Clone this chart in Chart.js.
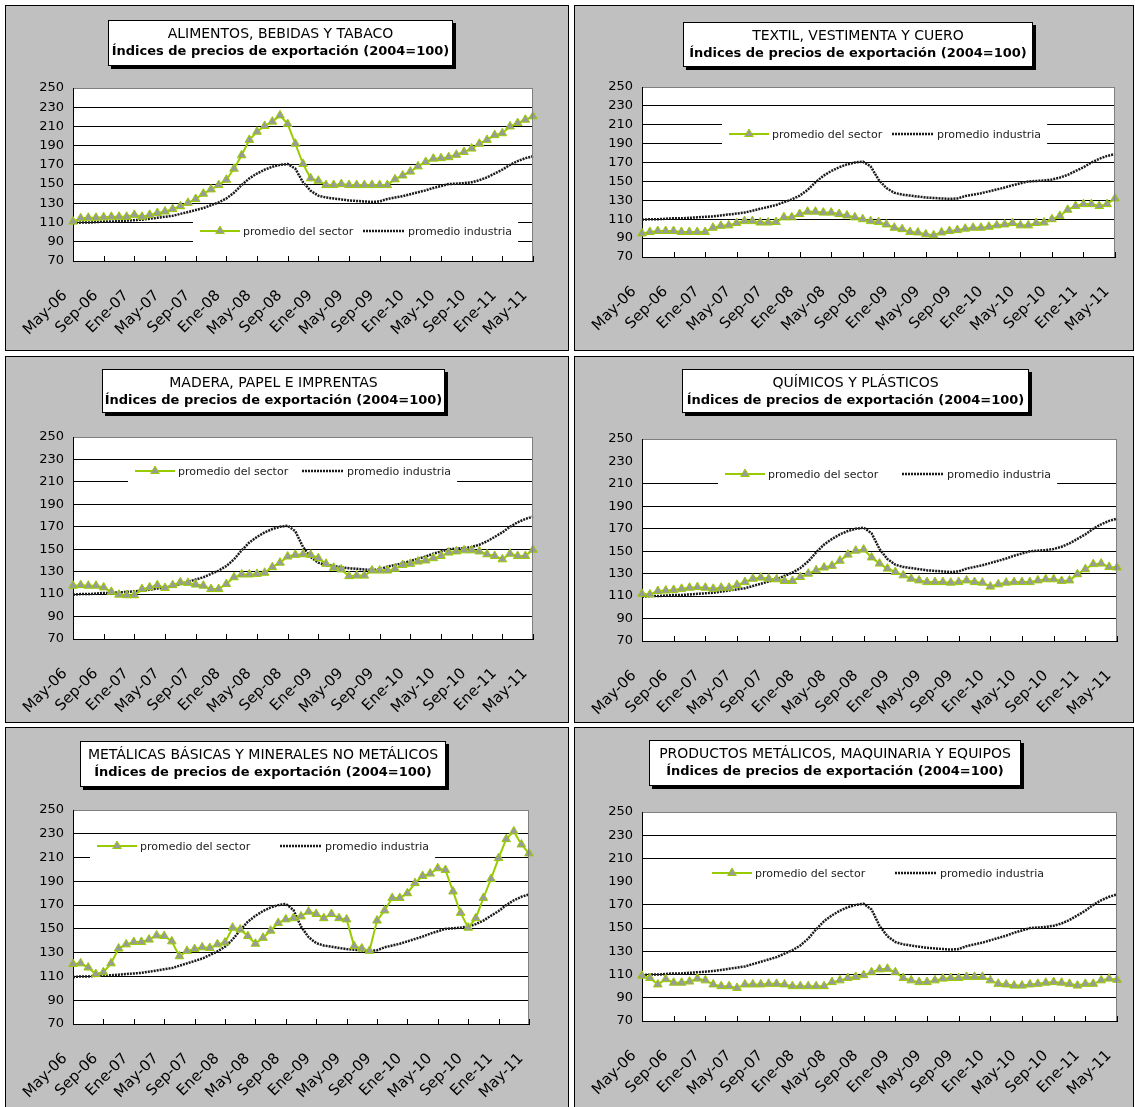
<!DOCTYPE html>
<html lang="es">
<head>
<meta charset="UTF-8">
<title>Índices de precios de exportación</title>
<script src="https://cdn.jsdelivr.net/npm/chart.js"></script>
<style>
  body { margin: 0; background: #fff; overflow: hidden; }
  #page { position: relative; width: 1135px; height: 1107px; overflow: hidden; background: #fff; }
  .panel { position: absolute; box-sizing: border-box; border: 1px solid #000; background: #c0c0c0; }
  .panel canvas { position: absolute; left: 0; top: 0; }
  .title { position: absolute; box-sizing: border-box; background: #fff; border: 1px solid #000;
           box-shadow: 3px 3px 0 #000; text-align: center; padding-top: 3px;
           font-family: "DejaVu Sans", sans-serif; color: #000; z-index: 2; }
  .title div { font-size: 14px; line-height: 18px; white-space: nowrap; }
  .title div.sub { font-size: 13px; font-weight: bold; }
</style>
</head>
<body>
<div id="page"></div>
<script>
// months, May-06 .. May-11
const months = [
  'May-06','Jun-06','Jul-06','Ago-06','Sep-06','Oct-06','Nov-06','Dic-06','Ene-07','Feb-07','Mar-07','Abr-07',
  'May-07','Jun-07','Jul-07','Ago-07','Sep-07','Oct-07','Nov-07','Dic-07','Ene-08','Feb-08','Mar-08','Abr-08',
  'May-08','Jun-08','Jul-08','Ago-08','Sep-08','Oct-08','Nov-08','Dic-08','Ene-09','Feb-09','Mar-09','Abr-09',
  'May-09','Jun-09','Jul-09','Ago-09','Sep-09','Oct-09','Nov-09','Dic-09','Ene-10','Feb-10','Mar-10','Abr-10',
  'May-10','Jun-10','Jul-10','Ago-10','Sep-10','Oct-10','Nov-10','Dic-10','Ene-11','Feb-11','Mar-11','Abr-11',
  'May-11'
];

const yTicks = [70, 90, 110, 130, 150, 170, 190, 210, 230, 250];

// promedio industria (same line on every panel)
const industria = [
  109.5,110,110,110.5,111,111,111.5,112,112.5,113,114,115,
  116,117,119,121,123,125,128,131,135,141,149,156,
  161,165,168,170,171,166,152,143,138,136,135,134,
  133,132.5,132,131.5,132,134.5,136,137.5,139.5,141.5,143.5,146,
  148,150,150.5,151,152,154,157,161,165,170,174,177,
  179
];

// promedio del sector, one array per panel
const alimentos = [
  111,114.5,115,115,115.5,116,116,116,118,116,118,120,
  121.5,124,127,130.5,134.5,140,144.5,149,154.5,166,180,196,
  204.5,210.5,215,221.5,212.5,192,171,156,153.5,149,149,150,
  149,149,149,149,149,149,155,159,163,168.5,173,176.5,
  177,178,180.5,183.5,187,192,196,201,203,210,213.5,217,
  220.5
];
const textil = [
  95,96.5,97.5,97.5,97.5,96.5,96.5,96.5,96.5,101,103,103.5,
  106,108,108,106.5,106.5,107,112,112,115.5,118,118,117,
  117,115.5,114,112,110,108,107,104.5,101,99.5,96.5,96,
  94,93,96,97.5,98.5,100,101,101,102,103.5,104.5,106,
  103.5,103.5,106,106.5,110,113.5,120,124,126,126,124,126,
  132
];
const madera = [
  117.5,118,117.5,117.5,116,112,109.5,109,109,114.5,116,118,
  115.5,118,120.5,120,118.5,117.5,114.5,114.5,119,125,127.5,127.5,
  128,129,134,138,143.5,145,145.5,145,142,137,133.5,132,
  126,126.5,126.5,131,131,131,132.5,136,137,139,140,142,
  144,147,148,149,149,148,145.5,144,141,146,144,144,
  149.5
];
const quimicos = [
  112,111.5,114.5,115,115.5,116.5,117.5,118,117.5,116.5,117.5,117.5,
  120,122.5,125.5,126.5,125.5,125,123.5,123.5,127,130,133,135.5,
  137,141.5,147,150.5,151.5,144.5,139,134.5,131.5,128.5,125.5,124,
  122.5,122.5,122.5,122,122.5,124,122.5,122,118.5,120.5,122,122.5,
  122.5,122.5,124,125,125,123.5,124,129.5,134,138.5,139,136,
  135.5
];
const metalicas = [
  120.5,121,117.5,112,113.5,121,133.5,137,139,139,141,144.5,
  144,139.5,127,131.5,133,134.5,134,137,138.5,151,149.5,144,
  137.5,142.5,148.5,155,158,159,160.5,164.5,162.5,159,162.5,159,
  158,135.5,133.5,131.5,157,165.5,176,176,180,188.5,194.5,196.5,
  201,199.5,181.5,163.5,151,159,176,192,209.5,225.5,232,221,
  213.5
];
const productos = [
  109,107,101.5,106,103,103,104,106.5,105,101.5,100,100,
  98.5,101.5,101.5,101.5,102,102,101.5,100,100,100,100,100,
  103.5,105,107,108,109.5,112,114.5,115,112,107,105,103.5,
  103.5,105,106.5,107,107,108,108,108,105,102,101.5,100.5,
  100.5,101.5,102,103,103.5,103,102,100.5,102,102,105,106.5,
  105.5
];

const sectorLabel = 'promedio del sector';
const industriaLabel = 'promedio industria';
const subtitle = 'Índices de precios de exportación (2004=100)';

const GREEN = '#99cc00';
const FONT = '"DejaVu Sans", sans-serif';

// layout of the six panels, in page pixels
const panels = [
  { name: 'ALIMENTOS, BEBIDAS Y TABACO', data: alimentos,
    box: [5, 5, 564, 346], plot: [73, 88, 533, 261], title: [108, 20, 345, 46], legend: [200, 363, 231], hide: [] },
  { name: 'TEXTIL, VESTIMENTA Y CUERO', data: textil,
    box: [574, 5, 560, 346], plot: [642, 87, 1115, 257], title: [683, 22, 350, 45], legend: [729, 892, 134], hide: [] },
  { name: 'MADERA, PAPEL E IMPRENTAS', data: madera,
    box: [5, 356, 564, 367], plot: [73, 437, 533, 639], title: [102, 369, 343, 44], legend: [135, 302, 471], hide: [] },
  { name: 'QUÍMICOS Y PLÁSTICOS', data: quimicos,
    box: [574, 356, 560, 367], plot: [642, 439, 1117, 641], title: [682, 369, 347, 44], legend: [725, 902, 474], hide: [230] },
  { name: 'METÁLICAS BÁSICAS Y MINERALES NO METÁLICOS', data: metalicas,
    box: [5, 727, 564, 382], plot: [73, 810, 529, 1024], title: [80, 741, 366, 46], legend: [97, 280, 846], hide: [] },
  { name: 'PRODUCTOS METÁLICOS, MAQUINARIA Y EQUIPOS', data: productos,
    box: [574, 727, 560, 382], plot: [642, 812, 1117, 1021], title: [649, 740, 372, 46], legend: [712, 895, 873], hide: [190] }
];

// white plot area, gray right edge, small inside tick marks on the date axis
const plotFrame = {
  id: 'plotFrame',
  beforeDraw(chart) {
    const { ctx, chartArea: a } = chart;
    ctx.save();
    ctx.fillStyle = '#fff';
    ctx.fillRect(a.left, a.top, a.width, a.height);
    ctx.restore();
  },
  afterDraw(chart) {
    const { ctx, chartArea: a } = chart;
    const x = chart.scales.x;
    ctx.save();
    ctx.lineWidth = 1;
    ctx.strokeStyle = '#808080';
    ctx.beginPath();
    ctx.moveTo(a.right - 0.5, a.top);
    ctx.lineTo(a.right - 0.5, a.bottom);
    ctx.stroke();
    ctx.strokeStyle = '#000';
    for (let i = 0; i < months.length; i += 4) {
      const px = Math.round(x.getPixelForValue(i)) + 0.5;
      ctx.beginPath();
      ctx.moveTo(px, a.bottom);
      ctx.lineTo(px, a.bottom - 5);
      ctx.stroke();
    }
    ctx.restore();
  }
};

// legend drawn inside the plot, on a white box
const boxLegend = {
  id: 'boxLegend',
  afterDatasetsDraw(chart, args, o) {
    const ctx = chart.ctx;
    const ds = chart.data.datasets;
    ctx.save();
    ctx.font = '11px ' + FONT;
    const w2 = ctx.measureText(ds[1].label).width;
    const left = o.x1 - 7, right = o.x2 + 45 + w2 + 6;
    ctx.fillStyle = '#fff';
    ctx.fillRect(left, o.y - 10, right - left, 22);

    ctx.strokeStyle = ds[0].borderColor;
    ctx.lineWidth = 2;
    ctx.beginPath();
    ctx.moveTo(o.x1, o.y);
    ctx.lineTo(o.x1 + 40, o.y);
    ctx.stroke();
    const r = 5, cx = o.x1 + 20;
    ctx.beginPath();
    ctx.moveTo(cx, o.y - r);
    ctx.lineTo(cx + r * 0.866, o.y + r / 2);
    ctx.lineTo(cx - r * 0.866, o.y + r / 2);
    ctx.closePath();
    ctx.fillStyle = ds[0].pointBackgroundColor;
    ctx.fill();
    ctx.lineWidth = 1;
    ctx.stroke();

    ctx.strokeStyle = ds[1].borderColor;
    ctx.lineWidth = ds[1].borderWidth;
    ctx.setLineDash(ds[1].borderDash);
    ctx.beginPath();
    ctx.moveTo(o.x2, o.y);
    ctx.lineTo(o.x2 + 42, o.y);
    ctx.stroke();
    ctx.setLineDash([]);

    ctx.fillStyle = '#222';
    ctx.textBaseline = 'middle';
    ctx.fillText(ds[0].label, o.x1 + 43, o.y + 1);
    ctx.fillText(ds[1].label, o.x2 + 45, o.y + 1);
    ctx.restore();
  }
};

const page = document.getElementById('page');

panels.forEach(p => {
  const [bx, by, bw, bh] = p.box;
  const [pl, pt, pr, pb] = p.plot;

  const div = document.createElement('div');
  div.className = 'panel';
  div.style.cssText = `left:${bx}px;top:${by}px;width:${bw}px;height:${bh}px;`;
  const cv = document.createElement('canvas');
  const cw = bw - 2, ch = bh - 2;
  cv.width = cw; cv.height = ch;
  cv.style.width = cw + 'px'; cv.style.height = ch + 'px';
  div.appendChild(cv);
  page.appendChild(div);

  const t = document.createElement('div');
  t.className = 'title';
  const [tx, ty, tw, th] = p.title;
  t.style.cssText = `left:${tx}px;top:${ty}px;width:${tw}px;height:${th}px;`;
  t.innerHTML = `<div>${p.name}</div><div class="sub">${subtitle}</div>`;
  page.appendChild(t);

  // canvas origin in page pixels
  const ox = bx + 1, oy = by + 1;
  const yw = 50;
  const xh = (oy + ch) - pb;

  new Chart(cv, {
    type: 'line',
    data: {
      labels: months,
      datasets: [
        { label: sectorLabel, data: p.data, borderColor: GREEN, borderWidth: 2,
          pointStyle: 'triangle', pointRadius: 5, pointBackgroundColor: '#9a9a9a',
          pointBorderColor: GREEN, pointBorderWidth: 1, tension: 0, clip: 8 },
        { label: industriaLabel, data: industria, borderColor: '#1a1a1a', borderWidth: 2.5,
          borderDash: [2, 1], pointRadius: 0, tension: 0, clip: 4 }
      ]
    },
    options: {
      responsive: false,
      animation: false,
      events: [],
      layout: { padding: { left: pl - ox - yw, top: pt - oy, right: (ox + cw) - pr, bottom: 0 } },
      plugins: {
        legend: { display: false },
        tooltip: { enabled: false },
        boxLegend: { x1: p.legend[0] - ox, x2: p.legend[1] - ox, y: p.legend[2] - oy }
      },
      scales: {
        x: {
          grid: { display: false, drawTicks: false },
          border: { display: true, color: '#000', width: 1 },
          ticks: {
            autoSkip: false, minRotation: 45, maxRotation: 45, padding: 26, labelOffset: -8,
            color: '#000', font: { family: FONT, size: 15 },
            callback: (v, i) => (i % 4 === 0 ? months[i] : null)
          },
          afterFit: s => { s.height = xh; s.paddingLeft = 0; s.paddingRight = 0; }
        },
        y: {
          min: yTicks[0], max: yTicks[yTicks.length - 1],
          afterBuildTicks: s => { s.ticks = yTicks.map(v => ({ value: v })); },
          grid: {
            drawTicks: false,
            color: c => c.tick.value === 250 ? '#808080'
              : (p.hide.includes(c.tick.value) ? 'rgba(0,0,0,0)' : '#000')
          },
          border: { display: true, color: '#000', width: 1 },
          ticks: { padding: 9, color: '#000', font: { family: FONT, size: 13 } },
          afterFit: s => { s.width = yw; }
        }
      }
    },
    plugins: [plotFrame, boxLegend]
  });
});
</script>
</body>
</html>
